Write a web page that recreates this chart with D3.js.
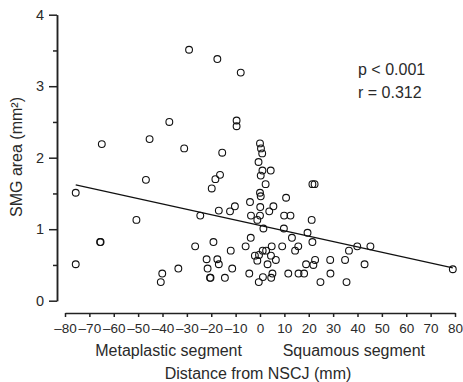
<!DOCTYPE html>
<html>
<head>
<meta charset="utf-8">
<script src="https://cdn.jsdelivr.net/npm/d3@7"></script>
<style>
    body { margin: 0; background: #fff; }
    svg { display: block; font-family: "Liberation Sans", Arial, sans-serif; }
    .axis text { fill: #2a2a2a; }
    .axis path, .axis line { stroke: #222; stroke-width: 1.5; }
</style>
</head>
<body>
<div id="chart"></div>
<script>
// distance from NSCJ (mm) and SMG area (mm2) per gland
const distance = [-75.6, -75.6, -65.6, -65.4, -64.9, -50.7, -46.8, -45.3, -37.2, -40.1,
    -40.7, -33.5, -31.1, -29.1, -17.5, -7.9, -9.6, -9.6, -15.5, -16.4,
    -18.3, -19.8, -10.3, -12.3, -16.9, -24.5, -19.1, -26.6, -12.0, -21.9,
    -17.5, -16.9, -21.5, -11.4, -20.5, -20.3, -14.4, 0, 0.4, 0.9,
    -0.6, 1.0, 4.4, 0.3, 2.3, 0, 0.3, -4.1, 0.1, 5.5,
    3.8, -3.7, -1.1, 0, 1.4, -3.8, -5.9, -2.1, -0.4, 1.1,
    2.5, 4.8, 4.5, 6.5, -1.1, 3.1, -4.4, 1.2, -0.5, 5.1,
    4.6, 10.7, 9.9, 12.5, 9.8, 13.1, 19.5, 21.2, 9.1, 15.7,
    14.4, 18.9, 11.6, 15.8, 18.1, 21.5, 22.4, 21.5, 22.6, 21.9,
    28.8, 34.9, 36.5, 39.9, 45.3, 42.9, 28.9, 24.8, 35.5, 79.1];
const area = [1.51, 0.51, 0.82, 0.82, 2.19, 1.13, 1.69, 2.26, 2.50, 0.38,
    0.26, 0.45, 2.13, 3.51, 3.38, 3.19, 2.52, 2.44, 2.07, 1.76,
    1.70, 1.57, 1.32, 1.25, 1.26, 1.19, 0.82, 0.76, 0.70, 0.58,
    0.58, 0.51, 0.45, 0.45, 0.32, 0.32, 0.32, 2.20, 2.13, 2.06,
    1.94, 1.82, 1.82, 1.75, 1.63, 1.51, 1.46, 1.38, 1.31, 1.32,
    1.25, 1.19, 1.13, 1.19, 1.01, 0.88, 0.76, 0.63, 0.64, 0.70,
    0.70, 0.76, 0.63, 0.57, 0.56, 0.51, 0.38, 0.33, 0.26, 0.38,
    0.32, 1.44, 1.19, 1.19, 1.01, 0.88, 0.95, 1.13, 0.76, 0.76,
    0.70, 0.51, 0.38, 0.38, 0.38, 1.63, 1.63, 0.82, 0.57, 0.50,
    0.57, 0.57, 0.70, 0.76, 0.76, 0.51, 0.38, 0.26, 0.26, 0.44];

// regression line end points
const fitX = [-75.6, 79.1];
const fitY = [1.62, 0.46];

const xTicks = [-80, -70, -60, -50, -40, -30, -20, -10, 0, 10, 20, 30, 40, 50, 60, 70, 80];
const yTicks = [0, 1, 2, 3, 4];
const yMinorTicks = [0.5, 1.5, 2.5, 3.5];
const segmentLabels = ["Metaplastic segment", "Squamous segment"];
const statLines = ["p < 0.001", "r = 0.312"];

const width = 463, height = 382;

const svg = d3.select("#chart").append("svg")
    .attr("width", width)
    .attr("height", height);

const x = d3.scaleLinear()
    .domain([-80, 80])
    .range([65, 455]);

const y = d3.scaleLinear()
    .domain([0, 4])
    .range([300.7, 14.7]);

const yAxisX = 57, xAxisY = 313;

// minor y ticks first, then the labelled ones on top
svg.append("g")
    .attr("class", "axis")
    .attr("transform", `translate(${yAxisX},0)`)
    .call(d3.axisLeft(y).tickValues(yMinorTicks).tickSize(4).tickSizeOuter(0).tickFormat(""));

svg.append("g")
    .attr("class", "axis")
    .attr("transform", `translate(${yAxisX},0)`)
    .call(d3.axisLeft(y).tickValues(yTicks).tickSize(8).tickSizeOuter(0).tickPadding(5)
        .tickFormat(d3.format("d")))
    .selectAll("text")
    .style("font-size", "14.5px");

svg.append("g")
    .attr("class", "axis")
    .attr("transform", `translate(0,${xAxisY})`)
    .call(d3.axisBottom(x).tickValues(xTicks).tickSize(4).tickSizeOuter(0).tickPadding(6)
        .tickFormat(d => d < 0 ? "\u2013" + Math.abs(d) : d))
    .selectAll("text")
    .style("font-size", "13.5px");

// fit line
svg.append("line")
    .attr("x1", x(fitX[0]))
    .attr("y1", y(fitY[0]))
    .attr("x2", x(fitX[1]))
    .attr("y2", y(fitY[1]))
    .attr("stroke", "#111")
    .attr("stroke-width", 1.2);

svg.selectAll("circle.pt")
    .data(d3.zip(distance, area))
    .enter().append("circle")
    .attr("class", "pt")
    .attr("cx", d => x(d[0]))
    .attr("cy", d => y(d[1]))
    .attr("r", 3.4)
    .attr("fill", "none")
    .attr("stroke", "#111")
    .attr("stroke-width", 1.1);

svg.selectAll("text.stat")
    .data(statLines)
    .enter().append("text")
    .attr("class", "stat")
    .attr("x", 358)
    .attr("y", (d, i) => 75 + i * 23)
    .style("font-size", "16px")
    .attr("fill", "#2a2a2a")
    .text(d => d);

svg.selectAll("text.segment")
    .data(segmentLabels)
    .enter().append("text")
    .attr("class", "segment")
    .attr("x", (d, i) => i === 0 ? x(-37.5) : x(38.5))
    .attr("y", 355.5)
    .attr("text-anchor", "middle")
    .style("font-size", "16px")
    .attr("fill", "#2a2a2a")
    .text(d => d);

svg.append("text")
    .attr("x", x(0) - 2)
    .attr("y", 378.5)
    .attr("text-anchor", "middle")
    .style("font-size", "16px")
    .attr("fill", "#2a2a2a")
    .text("Distance from NSCJ (mm)");

svg.append("text")
    .attr("transform", `translate(21.5,157) rotate(-90)`)
    .attr("text-anchor", "middle")
    .style("font-size", "16px")
    .attr("fill", "#2a2a2a")
    .text("SMG area (mm\u00b2)");
</script>
</body>
</html>
